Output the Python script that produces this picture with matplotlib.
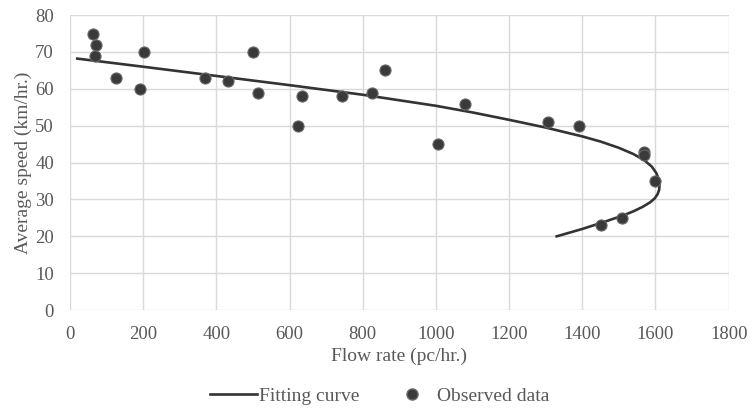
import matplotlib.pyplot as plt
from matplotlib.lines import Line2D

plt.rcParams['font.family'] = ['Liberation Serif', 'DejaVu Serif']

flow_obs = [64, 70, 68, 125, 191, 202, 369, 431, 501, 514, 622, 633,
            744, 826, 860, 1006, 1079, 1306, 1390, 1569, 1569, 1598, 1452, 1509]
speed_obs = [75, 72, 69, 63, 60, 70, 63, 62, 70, 59, 50, 58,
             58, 59, 65, 45, 56, 51, 50, 43, 42, 35, 23, 25]

# Fitting curve
flow_fit = [20, 200, 400, 600, 800, 1000, 1100, 1200, 1300, 1400, 1450, 1500,
            1540, 1570, 1590, 1602, 1608, 1611, 1610, 1606, 1598, 1585, 1565,
            1540, 1510, 1480, 1450, 1400, 1330]
speed_fit = [68.2, 66.0, 63.5, 61.0, 58.4, 55.4, 53.6, 51.6, 49.5, 47.1, 45.7, 44.0,
             42.3, 40.6, 38.9, 37.2, 35.7, 34.0, 32.6, 31.5, 30.3, 29.2, 28.0,
             26.8, 25.6, 24.6, 23.6, 22.0, 20.0]

grey = '#595959'

fig = plt.figure(figsize=(7.52, 4.08), dpi=100)
ax = fig.add_axes([0.093, 0.240, 0.876, 0.723])

ax.plot(flow_fit, speed_fit, color='#333333', lw=1.9, zorder=3,
        solid_joinstyle='round')
ax.plot(flow_obs, speed_obs, 'o', ms=8, mfc='#3a3a3a', mec='#6a6a6a',
        mew=0.8, zorder=4)

ax.set_xlim(0, 1800)
ax.set_ylim(0, 80)
ax.set_xticks(range(0, 1801, 200))
ax.set_yticks(range(0, 81, 10))
ax.grid(True, color='#d9d9d9', lw=1.0)
ax.set_axisbelow(True)
for s in ax.spines.values():
    s.set_visible(False)
ax.tick_params(length=0, labelsize=13.5, colors=grey)
ax.tick_params(axis='x', pad=11.5)
ax.tick_params(axis='y', pad=11.5)

ax.set_xlabel('Flow rate (pc/hr.)', fontsize=14, color=grey, labelpad=3)
ax.set_ylabel('Average speed (km/hr.)', fontsize=14, color=grey, labelpad=2.5)

handles = [Line2D([], [], color='#333333', lw=1.9),
           Line2D([], [], ls='', marker='o', ms=8, mfc='#3a3a3a', mec='#6a6a6a')]
fig.legend(handles, ['Fitting curve', 'Observed data'], loc='center',
           bbox_to_anchor=(0.505, 0.03), ncol=2, frameon=False, fontsize=14,
           labelcolor=grey, handlelength=2.4, handletextpad=0.1, columnspacing=1.5)

fig.savefig('out.png', dpi=100)
